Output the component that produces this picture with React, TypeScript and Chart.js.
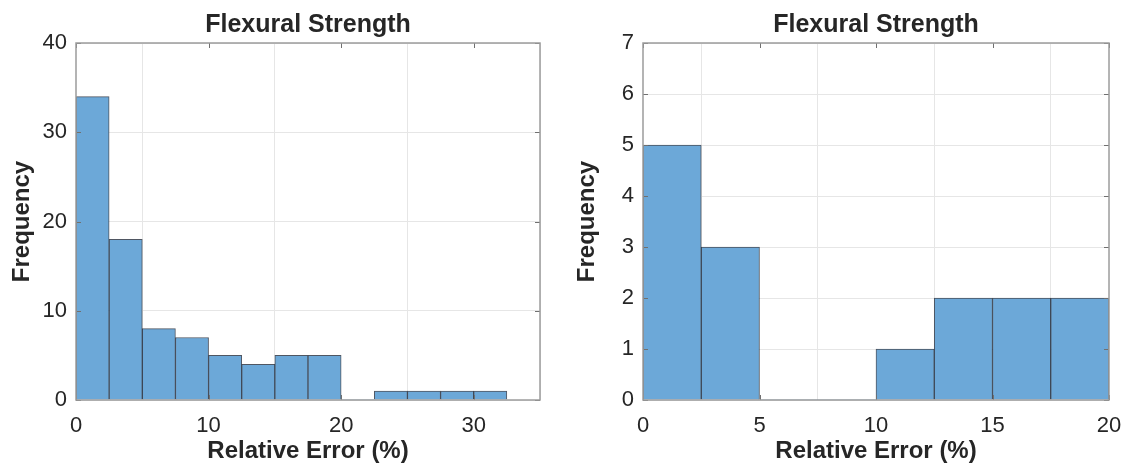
import React, { useEffect, useRef } from "react";
import { Chart, registerables } from "chart.js";

Chart.register(...registerables);

// ---- data ----
const chartTitle = "Flexural Strength";
const xAxisTitle = "Relative Error (%)";
const yAxisTitle = "Frequency";

const leftBinCenters = [1.25, 3.75, 6.25, 8.75, 11.25, 13.75, 16.25, 18.75, 21.25, 23.75, 26.25, 28.75, 31.25];
const leftCounts = [34, 18, 8, 7, 5, 4, 5, 5, 0, 1, 1, 1, 1];
const leftXTicks = [0, 10, 20, 30];
const leftXMax = 35;
const leftYTicks = [0, 10, 20, 30, 40];

const rightBinCenters = [1.25, 3.75, 6.25, 8.75, 11.25, 13.75, 16.25, 18.75];
const rightCounts = [5, 3, 0, 0, 1, 2, 2, 2];
const rightXTicks = [0, 5, 10, 15, 20];
const rightXMax = 20;
const rightYTicks = [0, 1, 2, 3, 4, 5, 6, 7];

const FONT = "'Liberation Sans', Arial, Helvetica, sans-serif";
const BAR_FILL = "rgb(108,168,216)";
const BAR_EDGE = "rgba(20,30,45,0.75)";
const GRID = "#e6e6e6";
const BOX = "#9c9c9c";
const TEXT = "#262626";

const boxPlugin = {
  id: "matlabBox",
  afterDraw(chart: any) {
    const { ctx, chartArea } = chart;
    const { left, right, top, bottom } = chartArea;
    ctx.save();
    ctx.strokeStyle = "#707070";
    ctx.lineWidth = 1;
    const xs = chart.scales.x;
    const ys = chart.scales.y;
    const tl = 5;
    xs.ticks.forEach((t: any) => {
      const px = Math.round(xs.getPixelForValue(t.value)) + 0.5;
      ctx.beginPath();
      ctx.moveTo(px, bottom);
      ctx.lineTo(px, bottom - tl);
      ctx.moveTo(px, top);
      ctx.lineTo(px, top + tl);
      ctx.stroke();
    });
    ys.ticks.forEach((t: any) => {
      const py = Math.round(ys.getPixelForValue(t.value)) + 0.5;
      ctx.beginPath();
      ctx.moveTo(left, py);
      ctx.lineTo(left + tl, py);
      ctx.moveTo(right, py);
      ctx.lineTo(right - tl, py);
      ctx.stroke();
    });
    ctx.strokeStyle = BOX;
    ctx.lineWidth = 1.5;
    ctx.strokeRect(left, top, right - left, bottom - top);
    ctx.restore();
  },
};

function makeConfig(
  centers: number[],
  counts: number[],
  xTicks: number[],
  xMax: number,
  yTicks: number[],
  yAxisWidth: number,
  rightPad: number
): any {
  return {
    type: "bar",
    data: {
      datasets: [
        {
          data: centers.map((c, i) => ({ x: c, y: counts[i] })),
          backgroundColor: BAR_FILL,
          borderColor: BAR_EDGE,
          borderWidth: (ctx: any) => (ctx.raw && ctx.raw.y === 0 ? 0 : 1),
          barPercentage: 1,
          categoryPercentage: 1,
        },
      ],
    },
    options: {
      animation: false,
      responsive: false,
      maintainAspectRatio: false,
      layout: { padding: { left: 0, right: rightPad, top: 0, bottom: 0 } },
      plugins: {
        legend: { display: false },
        tooltip: { enabled: false },
        title: {
          display: true,
          text: chartTitle,
          fullSize: false,
          color: TEXT,
          font: { family: FONT, size: 25, weight: "bold", lineHeight: 1.2 },
          padding: { top: 10, bottom: 3 },
        },
      },
      scales: {
        x: {
          type: "linear",
          min: 0,
          max: xMax,
          offset: false,
          afterBuildTicks: (s: any) => {
            s.ticks = xTicks.map((v) => ({ value: v }));
          },
          afterFit: (s: any) => {
            s.height = 66;
            s.paddingLeft = 0;
            s.paddingRight = 0;
          },
          grid: { color: GRID, drawTicks: false },
          border: { display: false },
          ticks: {
            color: TEXT,
            padding: 13,
            maxRotation: 0,
            font: { family: FONT, size: 22 },
          },
          title: {
            display: true,
            text: xAxisTitle,
            color: TEXT,
            font: { family: FONT, size: 24, weight: "bold", lineHeight: 1.2 },
            padding: { top: 0, bottom: 0 },
          },
        },
        y: {
          type: "linear",
          min: 0,
          max: yTicks[yTicks.length - 1],
          afterBuildTicks: (s: any) => {
            s.ticks = yTicks.map((v) => ({ value: v }));
          },
          afterFit: (s: any) => {
            s.width = yAxisWidth;
          },
          grid: { color: GRID, drawTicks: false },
          border: { display: false },
          ticks: {
            color: TEXT,
            padding: 9,
            font: { family: FONT, size: 22 },
          },
          title: {
            display: true,
            text: yAxisTitle,
            color: TEXT,
            font: { family: FONT, size: 24, weight: "bold", lineHeight: 1.2 },
            padding: { top: 8, bottom: 0 },
          },
        },
      },
    },
    plugins: [boxPlugin],
  };
}

function Hist(props: {
  centers: number[];
  counts: number[];
  xTicks: number[];
  xMax: number;
  yTicks: number[];
  yAxisWidth: number;
  rightPad: number;
  left: number;
  width: number;
}) {
  const ref = useRef<HTMLCanvasElement | null>(null);
  useEffect(() => {
    if (!ref.current) return;
    const chart = new Chart(
      ref.current,
      makeConfig(props.centers, props.counts, props.xTicks, props.xMax, props.yTicks, props.yAxisWidth, props.rightPad)
    );
    return () => chart.destroy();
  }, []);
  return (
    <canvas
      ref={ref}
      width={props.width}
      height={466}
      style={{ position: "absolute", left: props.left, top: 0, width: props.width, height: 466 }}
    />
  );
}

export default function App() {
  return (
    <div style={{ position: "absolute", left: 0, top: 0, width: 1130, height: 466, background: "#fff", overflow: "hidden" }}>
      <Hist
        centers={leftBinCenters}
        counts={leftCounts}
        xTicks={leftXTicks}
        xMax={leftXMax}
        yTicks={leftYTicks}
        yAxisWidth={76}
        rightPad={25}
        left={0}
        width={565}
      />
      <Hist
        centers={rightBinCenters}
        counts={rightCounts}
        xTicks={rightXTicks}
        xMax={rightXMax}
        yTicks={rightYTicks}
        yAxisWidth={78}
        rightPad={21}
        left={565}
        width={565}
      />
    </div>
  );
}
